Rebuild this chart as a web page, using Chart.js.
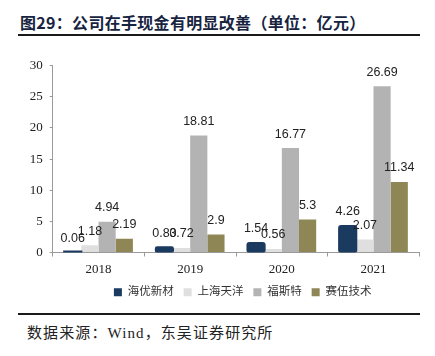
<!DOCTYPE html>
<html>
<head>
<meta charset="utf-8">
<script src="https://cdn.jsdelivr.net/npm/chart.js@4"></script>
<style>
  html, body { margin:0; padding:0; background:#fff; }
  body { width:435px; height:356px; position:relative; overflow:hidden; }
  #title { position:absolute; left:20px; top:10px; font: bold 16px "Noto Sans CJK SC", sans-serif; color:#17243f; white-space:nowrap; letter-spacing:0.3px; }
  .rule { position:absolute; left:18px; width:402px; height:2px; background:#1a1a1a; }
  #src { position:absolute; left:27px; top:321px; font: 15px "Liberation Serif", "Noto Sans CJK SC", serif; color:#222; white-space:nowrap; letter-spacing:1.1px; }
  #wrap { position:absolute; left:0; top:40px; width:435px; height:270px; }
</style>
</head>
<body>
<div id="title">图29：公司在手现金有明显改善（单位：亿元）</div>
<div class="rule" style="top:34px"></div>
<div id="wrap"><canvas id="c"></canvas></div>
<div class="rule" style="top:313px"></div>
<div id="src">数据来源：Wind，东吴证券研究所</div>
<script>
const categories = ['2018', '2019', '2020', '2021'];
const seriesNames = ['海优新材', '上海天洋', '福斯特', '赛伍技术'];
const haiyouValues = [0.06, 0.83, 1.54, 4.26];
const tianyangValues = [1.18, 0.72, 0.56, 2.07];
const fosterValues = [4.94, 18.81, 16.77, 26.69];
const saiwuValues = [2.19, 2.9, 5.3, 11.34];
const yTicks = [0, 5, 10, 15, 20, 25, 30];

const colors = ['#1b3a60', '#dfdfdf', '#b3b3b3', '#8f8656'];

const valueLabels = {
  id: 'valueLabels',
  afterDatasetsDraw(chart) {
    const ctx = chart.ctx;
    ctx.save();
    ctx.font = '12.5px "Liberation Sans", Arial, sans-serif';
    ctx.fillStyle = '#222';
    ctx.textAlign = 'center';
    ctx.textBaseline = 'middle';
    chart.data.datasets.forEach((ds, i) => {
      chart.getDatasetMeta(i).data.forEach((bar, j) => {
        const top = chart.scales.y.getPixelForValue(ds.data[j]);
        ctx.fillText(String(ds.data[j]), bar.x, top - 14);
      });
    });
    ctx.restore();
  }
};

const legendShift = {
  id: 'legendShift',
  afterLayout(chart) {
    if (chart.legend) { chart.legend.left += 33; chart.legend.right += 33; }
  }
};

const allSeries = [haiyouValues, tianyangValues, fosterValues, saiwuValues];

new Chart(document.getElementById('c'), {
  type: 'bar',
  data: {
    labels: categories,
    datasets: allSeries.map((vals, i) => ({
      label: seriesNames[i],
      data: vals,
      backgroundColor: colors[i],
      borderWidth: 0,
      borderRadius: i === 0 ? 3 : 0,
      borderSkipped: i === 0 ? false : 'start',
      inflateAmount: i === 0 ? 1 : 'auto',
      minBarLength: i === 0 ? 1 : 0,
      categoryPercentage: 0.75,
      barPercentage: 1.0
    }))
  },
  options: {
    responsive: true,
    maintainAspectRatio: false,
    animation: false,
    devicePixelRatio: 1,
    layout: { padding: { left: 0, right: 15.7, top: 25.7, bottom: 2 } },
    plugins: {
      legend: {
        position: 'bottom',
        labels: {
          boxWidth: 8,
          boxHeight: 8,
          padding: 10,
          color: '#333',
          font: { size: 11.5, family: '"Liberation Serif", "Noto Sans CJK SC", serif' }
        }
      },
      tooltip: { enabled: false }
    },
    scales: {
      x: {
        offset: true,
        grid: { display: true, offset: true, drawOnChartArea: false, drawTicks: true, tickLength: 4, color: '#9a9a9a' },
        border: { display: true, color: '#9a9a9a', width: 1 },
        ticks: { color: '#222', padding: 5, font: { size: 13, family: '"Liberation Serif", serif' } },
        afterFit(s) { s.height = 24; }
      },
      y: {
        min: 0,
        max: 30,
        afterBuildTicks(s) { s.ticks = yTicks.map(v => ({ value: v })); },
        grid: { display: true, drawOnChartArea: false, drawTicks: true, tickLength: 3, color: '#9a9a9a' },
        border: { display: true, color: '#9a9a9a', width: 1 },
        ticks: { color: '#222', padding: 7, font: { size: 13, family: '"Liberation Serif", serif' } },
        afterFit(s) { s.width = 52.7; }
      }
    }
  },
  plugins: [valueLabels, legendShift]
});
</script>
</body>
</html>
